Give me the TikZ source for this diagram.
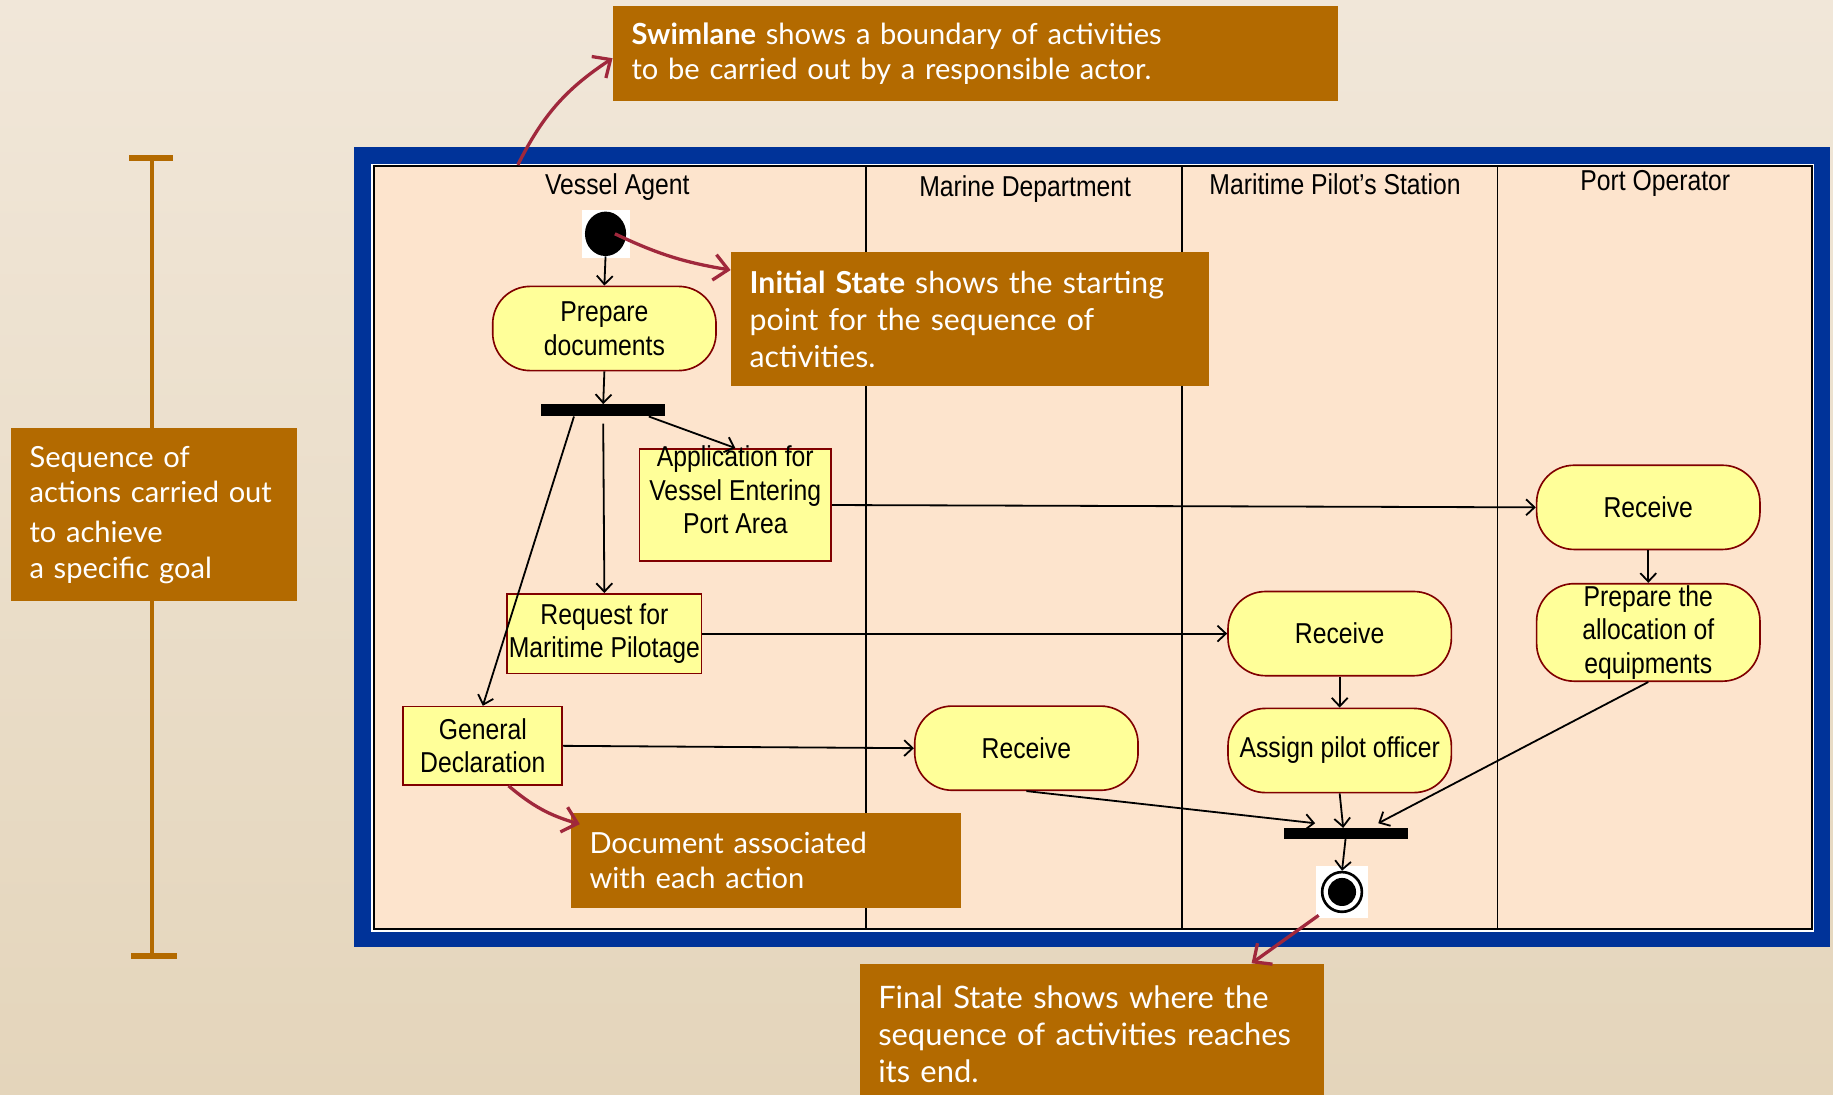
\documentclass[tikz,border=0pt]{standalone}
\usepackage{fontspec}
\setmainfont{Lato}
\newfontfamily\lanefont[FakeStretch=0.86]{Liberation Sans}
\usetikzlibrary{arrows.meta,shapes.geometric}

\definecolor{bgtop}{RGB}{241,231,217}
\definecolor{bgbot}{RGB}{228,213,187}
\definecolor{frameblue}{RGB}{0,51,153}
\definecolor{lanefill}{RGB}{253,228,205}
\definecolor{actfill}{RGB}{255,255,153}
\definecolor{actline}{RGB}{128,0,0}
\definecolor{notebrown}{RGB}{179,106,0}
\definecolor{pointred}{RGB}{160,40,60}

\tikzset{
	lanetext/.style={font=\lanefont\fontsize{17.5}{20.5}\selectfont, align=center, inner sep=1pt},
	activity/.style={lanetext, rectangle, rounded corners=0.8cm, draw=actline, fill=actfill, line width=1pt, minimum width=4.775cm, minimum height=1.8cm},
	docbox/.style={lanetext, rectangle, draw=actline, fill=actfill, line width=1pt},
	forkbar/.style={fill=black, minimum width=2.65cm, minimum height=0.25cm, inner sep=0pt},
	flow/.style={-{Straight Barb[length=1.8mm,width=3.4mm]}, line width=1.1pt},
	note/.style={fill=notebrown, text=white, align=left, anchor=north west, inner xsep=0.4cm, font=\fontsize{17.7}{21.5}\selectfont},
	pointer/.style={-{Straight Barb[length=3mm,width=5.5mm]}, draw=pointred, line width=2pt},
}

\begin{document}
\begin{tikzpicture}[x=0.025cm,y=-0.025cm]
	\useasboundingbox (0,0) rectangle (1568,936);
	\clip (0,0) rectangle (1568,936);
	\shade[top color=bgtop, bottom color=bgbot] (0,0) rectangle (1568,936);

	% swimlane frame
	\fill[frameblue] (303,126) rectangle (1565,810);
	\fill[white] (317,140) rectangle (1552,797);
	\draw[fill=lanefill, line width=1.2pt] (320,142) rectangle (1550,795);
	\draw[line width=1.2pt] (741,142) -- (741,795);
	\draw[line width=1.2pt] (1011,142) -- (1011,795);
	\draw[line width=1.2pt] (1281,142) -- (1281,795);
	\node[lanetext] (laneva) at (528,160) {Vessel Agent};
	\node[lanetext] (lanemd) at (877,162) {Marine Department};
	\node[lanetext] (lanemps) at (1142,158) {Maritime Pilot’s Station};
	\node[lanetext] (lanepo) at (1416,157) {Port Operator};

	% activities
	\node[fill=white, minimum size=1.025cm, inner sep=0pt] (startbg) at (518,200) {};
	\node[ellipse, fill=black, minimum width=0.88cm, minimum height=0.95cm, inner sep=0pt] (start) at (518,200) {};
	\node[activity] (prep) at (517,281) {Prepare\\documents};
	\node[forkbar] (fork) at (516,351) {};
	\node[docbox, minimum width=4.1cm, minimum height=2.4cm] (app) at (629,432) {};
	\node[lanetext] (apptext) at ([yshift=0.325cm]app.center) {Application for\\Vessel Entering\\Port Area};
	\node[docbox, minimum width=4.1cm, minimum height=1.7cm] (req) at (517,542) {Request for\\Maritime Pilotage};
	\node[docbox, minimum width=3.4cm, minimum height=1.675cm] (gen) at (413,638) {General\\Declaration};
	\node[activity] (recmd) at (878,640) {Receive};
	\node[activity] (recmps) at (1146,542) {Receive};
	\node[activity] (assign) at (1146,642) {Assign pilot officer};
	\node[activity] (recpo) at (1410,434) {Receive};
	\node[activity, minimum height=2.05cm] (alloc) at (1410,541) {Prepare the\\allocation of\\equipments};
	\node[forkbar, minimum height=0.225cm] (join) at (1151,713) {};
	\node[fill=white, minimum size=1.1cm, inner sep=0pt] (stopbg) at (1148,763) {};
	\node[circle, draw, line width=1.6pt, minimum size=0.85cm, inner sep=0pt] (stop) at (1148,763) {};
	\fill (stop.center) circle (0.3cm);

	\draw[flow] (start.south) -- (prep.north);
	\draw[flow] (prep.south) -- (fork.north);
	\draw[flow] ([xshift=0.975cm]fork.south) -- (app.north);
	\draw[flow] ([yshift=-0.15cm]fork.south) -- (req.north);
	\draw[flow] ([xshift=-0.625cm]fork.south) -- (gen.north);
	\draw[flow] (app.east) -- (recpo.west);
	\draw[flow] (req.east) -- (recmps.west);
	\draw[flow] (gen.east) -- (recmd.west);
	\draw[flow] (recpo.south) -- (alloc.north);
	\draw[flow] (recmps.south) -- (assign.north);
	\draw[flow] (recmd.south) -- ([xshift=-0.65cm,yshift=0.1cm]join.north);
	\draw[flow] (assign.south) -- ([xshift=-0.05cm]join.north);
	\draw[flow] (alloc.south) -- ([xshift=0.7cm,yshift=0.1cm]join.north);
	\draw[flow] (join.south) -- (stop.north);

	% left bracket
	\draw[notebrown, line width=2.9pt] (130,135) -- (130,817);
	\fill[notebrown] (110,133) rectangle (148,138);
	\fill[notebrown] (112,815) rectangle (151,820);

	% notes
	\node[note, text width=14.7cm, minimum height=2.025cm] (swimnote) at (524,5) {\textbf{Swimlane} shows a boundary of activities\\to be carried out by a responsible actor.};
	\node[note, text width=9.425cm, minimum height=2.875cm, font=\fontsize{18.4}{22.5}\selectfont] (initnote) at (625,215) {\textbf{Initial State} shows the starting\\point for the sequence of\\activities.};
	\node[note, text width=7.55cm, minimum height=2.025cm] (docnote) at (488,695) {Document associated\\with each action};
	\node[note, text width=9.125cm, minimum height=3cm, font=\fontsize{18.8}{22.5}\selectfont] (finalnote) at (735,824) {Final State shows where the\\sequence of activities reaches\\its end.};
	\node[note, text width=5.325cm, minimum height=3.7cm] (goalnote) at (9,366) {Sequence of\\actions carried out\\[3pt]to achieve\\a specific goal};

	\coordinate (swimpt) at (443,141);
	\draw[pointer] (swimpt) to[bend left=15] ([yshift=-0.1cm]swimnote.west);
	\draw[pointer] ([xshift=0.2cm]start.center) to[bend right=8] ([yshift=-0.4cm]initnote.north west);
	\draw[pointer] ([xshift=0.55cm]gen.south) to[bend right=12] ([xshift=0.2cm,yshift=-0.25cm]docnote.north west);
	\draw[pointer] ([shift={(-0.5cm,-0.5cm)}]stop.center) -- ([xshift=-1.55cm]finalnote.north east);
\end{tikzpicture}
\end{document}
